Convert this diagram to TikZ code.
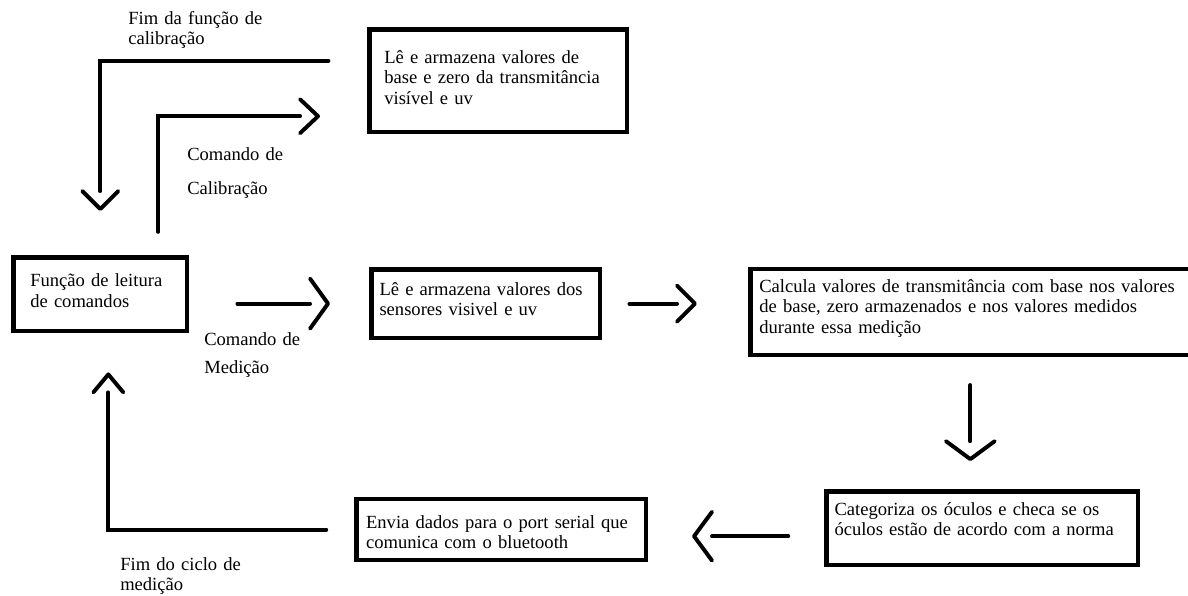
\documentclass[tikz,border=0pt]{standalone}
\usepackage{fontspec}
\setmainfont{Liberation Serif}
\usepackage{tikz}
\usetikzlibrary{arrows.meta, positioning}
% open chevron tip, the line stops at the back of its arms
\pgfdeclarearrow{
  name = Chevron,
  defaults = {length = 0.45cm, width = 0.9cm},
  setup code = {
    \pgfarrowssettipend{.5\pgfarrowlinewidth}
    \pgfarrowssetlineend{-\pgfarrowlength}
    \pgfarrowssetvisualbackend{-\pgfarrowlength}
    \pgfarrowssetbackend{-\pgfarrowlength}
    \pgfarrowssavethe\pgfarrowlength
    \pgfarrowssavethe\pgfarrowwidth
  },
  drawing code = {
    \pgfsetroundcap
    \pgfsetroundjoin
    \pgfpathmoveto{\pgfqpoint{-\pgfarrowlength}{.5\pgfarrowwidth}}
    \pgfpathlineto{\pgfpointorigin}
    \pgfpathlineto{\pgfqpoint{-\pgfarrowlength}{-.5\pgfarrowwidth}}
    \pgfusepathqstroke
  },
  parameters = {\the\pgfarrowlength,\the\pgfarrowwidth,\the\pgfarrowlinewidth},
}
\tikzset{%
% Specifications for style of nodes:
stage/.style = {draw, line width=3.2pt, align=left, anchor=base west, inner ysep=0pt},
note/.style = {align=left, anchor=base west, inner sep=0pt, text width=4cm},
% Specifications for style of connectors:
flow/.style = {line width=2.8pt, line cap=round, -{Chevron[width=#1]}},
flow/.default = 0.9cm,
}

\begin{document}
\begin{tikzpicture}[
            x=0.025cm, y=-0.025cm,
            every node/.style={font=\fontsize{13.2pt}{14.9pt}\selectfont}
        ]
        \path[use as bounding box, fill=white] (0,0) rectangle (1188,595);

        % Specification of nodes (position, etc.)
        \node (calibRead) [stage, text width=5.7cm, inner xsep=0.37cm, text height=0.84cm, text depth=1.72cm] at (367.25,63) {Lê e armazena valores de\\base e zero da transmitância\\visível e uv};
        \node (cmdRead) [stage, text width=3.5cm, inner xsep=0.42cm, text height=0.73cm, text depth=1.11cm] at (11.25,286.5) {Função de leitura\\de comandos};
        \node (sensorRead) [stage, text width=5.31cm, inner xsep=0.2cm, text height=0.64cm, text depth=1.07cm] at (369.25,295) {Lê e armazena valores dos\\sensores visivel e uv};
        \node (transCalc) [stage, text width=10.78cm, inner xsep=0.22cm, text height=0.57cm, text depth=1.57cm] at (748.25,292) {Calcula valores de transmitância com base nos valores\\de base, zero armazenados e nos valores medidos\\durante essa medição};
        \node (categorize) [stage, text width=7.39cm, inner xsep=0.2cm, text height=0.59cm, text depth=1.25cm] at (824.25,515) {Categoriza os óculos e checa se os\\óculos estão de acordo com a norma};
        \node (sendData) [stage, text width=6.75cm, inner xsep=0.24cm, text height=0.72cm, text depth=0.8cm] at (354.25,528) {Envia dados para o port serial que\\comunica com o bluetooth};

        \node (calibEndLabel) [note] at (128,24) {Fim da função de\\calibração};
        \node (calibCmdLabel) [note] at (187,160) {Comando de\\[9.9pt]Calibração};
        \node (measCmdLabel) [note] at (204,345) {Comando de\\[5.7pt]Medição};
        \node (cycleEndLabel) [note] at (120,570) {Fim do ciclo de\\medição};

        \draw [flow=0.85cm, shorten <=0.58cm, shorten >=1.23cm] ([xshift=1.45cm]cmdRead.north) |- ([yshift=-0.89cm]calibRead.west);
        \draw [flow, shorten <=0.97cm, shorten >=1.15cm] ([yshift=0.5cm]calibRead.west) -| (cmdRead.north);
        \draw [flow=1.25cm, shorten <=1.2cm, shorten >=1.03cm] (cmdRead.east |- sensorRead.west) -- (sensorRead.west);
        \draw [flow, shorten <=0.68cm, shorten >=1.33cm] (sensorRead.east) -- (sensorRead.east -| transCalc.west);
        \draw [flow=1.22cm, shorten <=0.7cm, shorten >=0.75cm] ([xshift=-0.3cm]categorize.north |- transCalc.south) -- ([xshift=-0.3cm]categorize.north);
        \draw [flow=1.22cm, shorten <=0.9cm, shorten >=1.15cm] ([yshift=-0.2cm]categorize.west) -- ([yshift=-0.2cm]categorize.west -| sendData.east);
        \draw [flow=0.75cm, shorten <=0.7cm, shorten >=1.03cm] (sendData.west) -| ([xshift=0.2cm]cmdRead.south);
    \end{tikzpicture}
\end{document}
